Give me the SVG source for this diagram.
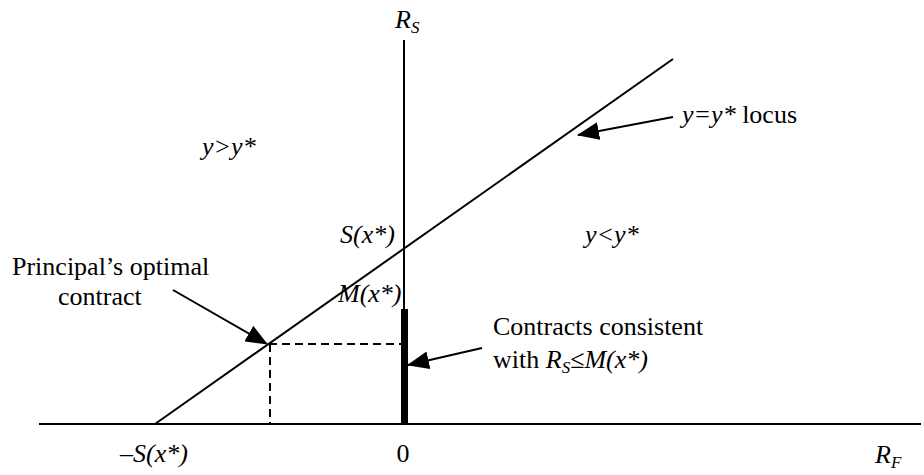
<svg xmlns="http://www.w3.org/2000/svg" width="924" height="475" viewBox="0 0 924 475">
<style>
text{font-family:"Liberation Serif","Times New Roman",serif;font-size:26px;fill:#000}
.i{font-style:italic}
.sub{font-size:17px;font-style:italic}
.ln{stroke:#000;stroke-width:2;fill:none}
.dash{stroke:#000;stroke-width:2;fill:none;stroke-dasharray:8 5}
.arr{stroke:#000;stroke-width:2;fill:none;marker-end:url(#ah)}
</style>
<defs>
<marker id="ah" viewBox="0 0 22 18" refX="21" refY="9" markerWidth="22" markerHeight="18" markerUnits="userSpaceOnUse" orient="auto">
<path d="M0,0 L22,9 L0,18 z" fill="#000"/>
</marker>
</defs>
<rect width="924" height="475" fill="#fff"/>
<g id="axes">
<line class="ln" x1="39" y1="424" x2="921" y2="424"/>
<line class="ln" x1="404" y1="40" x2="404" y2="424"/>
<text x="395" y="28" class="i">R<tspan class="sub" dy="5">S</tspan></text>
<text x="875" y="463" class="i">R<tspan class="sub" dy="5">F</tspan></text>
<text x="403" y="462" text-anchor="middle">0</text>
<text x="120" y="462" class="i">–S(x*)</text>
</g>
<g id="locus">
<line class="ln" x1="155" y1="424" x2="673" y2="59"/>
<text x="682" y="123"><tspan class="i">y=y*</tspan> locus</text>
</g>
<g id="regions">
<text x="202" y="155" class="i">y&gt;y*</text>
<text x="585" y="243" class="i">y&lt;y*</text>
</g>
<g id="intercepts">
<text x="340" y="243" class="i">S(x*)</text>
<text x="338" y="302" class="i">M(x*)</text>
</g>
<g id="feasible">
<rect x="401" y="309" width="7" height="116" fill="#000"/>
<text x="493" y="335">Contracts consistent</text>
<text x="493" y="368">with <tspan class="i">R</tspan><tspan class="sub" dy="5">S</tspan><tspan dy="-5">≤</tspan><tspan class="i">M(x*)</tspan></text>
</g>
<g id="optimal">
<line class="dash" x1="269" y1="344" x2="401" y2="344"/>
<line class="dash" x1="270" y1="344" x2="270" y2="424"/>
<text x="12" y="275">Principal’s optimal</text>
<text x="58" y="305">contract</text>
</g>
<g id="connectors">
<line class="arr" x1="673" y1="117" x2="578" y2="135"/>
<line class="arr" x1="173" y1="290" x2="267" y2="344"/>
<line class="arr" x1="482" y1="348" x2="408" y2="365"/>
</g>
</svg>
